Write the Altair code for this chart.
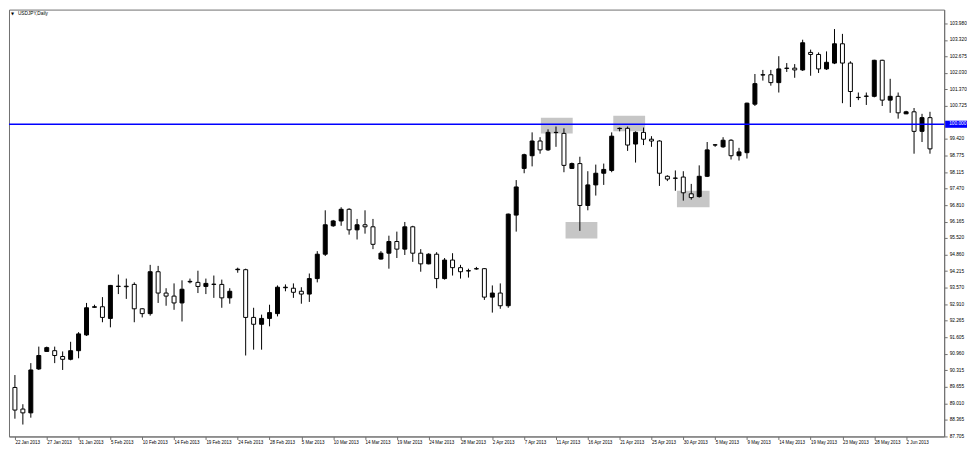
import json
import altair as alt
import pandas as pd

# OHLC per daily bar (Sun-Fri bars, 22 Jan 2013 .. 5 Jun 2013)
opens = [89.63, 88.78, 88.63, 90.36, 91.05, 91.08, 90.85, 90.74, 91.08, 91.70,
         92.79, 92.81, 92.35, 93.61, 93.62, 93.69, 92.73, 92.54, 94.19, 93.35,
         93.23, 92.96, 93.79, 93.77, 93.61, 93.69, 93.69, 93.16, 94.27, 94.27,
         92.39, 92.12, 92.35, 92.54, 93.56, 93.54, 93.42, 93.31, 93.92, 94.88,
         96.00, 96.19, 96.65, 95.84, 96.04, 95.96, 94.69, 94.92, 95.38, 95.08,
         95.96, 94.92, 94.50, 94.88, 93.92, 94.65, 94.35, 94.22, 94.30, 94.31,
         93.19, 93.35, 92.85, 96.42, 98.26, 98.76, 99.34, 98.99, 99.67, 99.64,
         98.26, 98.45, 96.80, 97.61, 98.07, 98.18, 99.83, 99.84, 99.22, 99.68,
         99.41, 99.34, 97.95, 97.88, 97.92, 97.26, 97.15, 97.95, 99.18, 99.11,
         99.37, 98.76, 98.88, 100.79, 101.94, 101.95, 101.64, 102.20, 102.21, 102.14,
         102.83, 102.75, 102.18, 102.41, 103.17, 102.41, 101.05, 101.10, 101.10, 102.52,
         100.95, 101.10, 100.41, 100.49, 99.72, 100.26]
highs = [90.12, 88.97, 90.59, 91.24, 91.24, 91.24, 91.05, 91.43, 91.81, 92.96,
         92.89, 93.19, 93.67, 94.08, 93.92, 93.77, 92.75, 94.46, 94.42, 93.54,
         93.73, 93.85, 93.92, 94.23, 93.92, 94.04, 93.88, 93.54, 94.35, 94.31,
         92.77, 92.50, 92.89, 93.65, 93.69, 93.73, 93.58, 94.12, 95.00, 96.61,
         96.23, 96.73, 96.69, 96.27, 96.61, 96.27, 95.00, 95.61, 95.77, 96.15,
         96.00, 95.08, 94.92, 94.96, 94.73, 94.92, 94.46, 94.31, 94.38, 94.33,
         93.65, 93.73, 96.48, 97.80, 98.84, 99.68, 99.49, 99.80, 99.91, 99.84,
         98.49, 98.72, 98.15, 98.41, 98.45, 99.68, 99.87, 99.91, 99.72, 99.87,
         99.53, 99.37, 97.99, 98.18, 98.15, 97.65, 98.38, 99.30, 99.22, 99.49,
         99.41, 99.07, 100.85, 101.98, 102.14, 102.14, 102.68, 102.41, 102.37, 103.33,
         102.94, 102.83, 102.87, 103.75, 103.56, 102.48, 101.25, 101.25, 102.54, 102.54,
         101.79, 101.25, 100.53, 100.64, 100.41, 100.49]
lows = [88.40, 88.17, 88.44, 90.32, 91.05, 90.59, 90.32, 90.70, 90.78, 91.66,
        92.77, 92.20, 92.00, 93.31, 93.12, 92.20, 92.39, 92.46, 92.96, 92.85,
        92.69, 92.23, 93.73, 93.35, 93.31, 93.16, 92.77, 92.93, 94.15, 90.89,
        91.12, 91.12, 92.04, 92.43, 93.42, 93.16, 92.93, 93.00, 93.77, 94.81,
        95.96, 96.00, 95.65, 95.46, 95.69, 95.08, 94.67, 94.31, 94.73, 94.85,
        94.58, 94.19, 94.48, 93.54, 93.88, 94.04, 93.92, 93.96, 94.27, 93.08,
        92.58, 92.73, 92.77, 95.77, 98.07, 98.34, 98.84, 98.95, 99.11, 98.11,
        98.24, 95.80, 96.61, 97.19, 97.61, 98.11, 99.72, 98.95, 98.49, 99.18,
        99.11, 97.57, 97.76, 97.38, 96.99, 97.03, 97.11, 97.92, 99.11, 99.07,
        98.61, 98.57, 98.65, 100.72, 101.72, 101.52, 101.25, 102.06, 101.83, 102.10,
        101.91, 102.02, 102.14, 102.37, 100.83, 100.68, 100.95, 100.76, 101.06, 100.72,
        100.45, 100.22, 100.40, 98.84, 99.30, 98.84]
closes = [88.74, 88.63, 90.32, 90.89, 91.20, 90.89, 90.74, 91.08, 91.74, 92.77,
          92.81, 92.39, 93.65, 93.62, 93.60, 92.73, 92.54, 94.19, 93.35, 93.23,
          92.96, 93.50, 93.81, 93.61, 93.73, 93.70, 93.16, 93.42, 94.29, 92.39,
          92.12, 92.35, 92.58, 93.58, 93.58, 93.38, 93.31, 93.92, 94.88, 96.04,
          96.19, 96.65, 95.84, 96.04, 95.96, 95.27, 94.92, 95.38, 95.08, 95.96,
          94.92, 94.50, 94.88, 93.92, 94.65, 94.35, 94.19, 94.23, 94.31, 93.19,
          93.35, 92.85, 96.46, 97.53, 98.80, 99.34, 98.99, 99.68, 99.68, 98.38,
          98.45, 96.80, 97.61, 98.07, 98.22, 99.53, 99.84, 99.18, 99.68, 99.41,
          99.34, 98.07, 97.84, 97.87, 97.30, 97.11, 97.95, 98.99, 99.19, 99.37,
          98.76, 98.91, 100.83, 101.60, 101.95, 101.64, 102.18, 102.21, 102.14, 103.21,
          102.75, 102.18, 102.44, 103.17, 102.41, 101.29, 101.06, 101.11, 102.52, 100.95,
          101.10, 100.45, 100.49, 99.72, 100.26, 99.03]

tick_labels = ["22 Jan 2013", "27 Jan 2013", "31 Jan 2013", "5 Feb 2013", "10 Feb 2013",
               "14 Feb 2013", "19 Feb 2013", "24 Feb 2013", "28 Feb 2013", "5 Mar 2013",
               "10 Mar 2013", "14 Mar 2013", "19 Mar 2013", "24 Mar 2013", "28 Mar 2013",
               "2 Apr 2013", "7 Apr 2013", "11 Apr 2013", "16 Apr 2013", "21 Apr 2013",
               "25 Apr 2013", "30 Apr 2013", "5 May 2013", "9 May 2013", "14 May 2013",
               "19 May 2013", "23 May 2013", "28 May 2013", "2 Jun 2013"]
y_ticks = [103.980, 103.320, 102.675, 102.030, 101.370, 100.725, 99.420, 98.775,
           98.115, 97.470, 96.810, 96.165, 95.520, 94.860, 94.215, 93.570, 92.910,
           92.265, 91.605, 90.960, 90.315, 89.655, 89.010, 88.365, 87.705]
level = 100.000

# highlighted zones (bar index range, price range)
zone_x0 = [66.1, 75.2, 69.2, 83.2]
zone_x1 = [70.1, 79.2, 73.2, 87.3]
zone_lo = [99.64, 99.72, 95.50, 96.73]
zone_hi = [100.26, 100.33, 96.15, 97.38]

df = pd.DataFrame({"i": list(range(len(opens))), "open": opens, "high": highs,
                   "low": lows, "close": closes})
df["bull"] = df["close"] >= df["open"]
zones = pd.DataFrame({"x0": zone_x0, "x1": zone_x1, "lo": zone_lo, "hi": zone_hi})
lvl = pd.DataFrame({"level": [level], "lo": [level - 0.14], "hi": [level + 0.14]})

FONT = "Liberation Sans"
GRAY = "#707070"
W, H = 942, 430
xs = alt.Scale(domain=[-0.12, 116.16], nice=False, zero=False)
ys = alt.Scale(domain=[87.70, 104.517], nice=False, zero=False)

label_expr = "%s[round(datum.value/4)]" % json.dumps(tick_labels)
x_axis = alt.Axis(values=list(range(0, 113, 4)), labelExpr=label_expr, labelAlign="left",
                  labelBaseline="top", labelFontSize=4.5, labelFont=FONT, labelColor="#000000",
                  tickSize=3, tickColor=GRAY, domainColor=GRAY, grid=False, title=None,
                  labelOverlap=False, labelPadding=0, labelBound=False, labelFlush=False)
y_axis = alt.Axis(orient="right", values=y_ticks, format=".3f", labelFontSize=4.8,
                  labelFont=FONT, labelColor="#000000", tickSize=3, tickColor=GRAY,
                  domainColor=GRAY, grid=False, title=None, labelPadding=2,
                  labelOverlap=False, labelBound=False, labelFlush=False)


def X(f):
    return alt.X(f, type="quantitative", scale=xs, axis=x_axis)


def Y(f):
    return alt.Y(f, type="quantitative", scale=ys, axis=y_axis)


zone_layer = alt.Chart(zones).mark_rect(color="#c6c6c6").encode(
    x=X("x0"), x2="x1", y=Y("lo"), y2="hi")

wicks = alt.Chart(df).mark_rule(color="black", strokeWidth=1).encode(
    x=X("i"), y=Y("low"), y2="high")

bodies = alt.Chart(df).mark_bar(size=4, stroke="black", strokeWidth=1).encode(
    x=X("i"), y=Y("open"), y2="close",
    fill=alt.condition("datum.bull", alt.value("black"), alt.value("white")))

line = alt.Chart(lvl).mark_rule(color="#0000ff", strokeWidth=1.5).encode(y=Y("level"))

lbl_box = alt.Chart(lvl).mark_rect(color="#0000ff").encode(
    x=alt.value(W + 1), x2=alt.value(W + 23), y=Y("lo"), y2="hi")
lbl_txt = alt.Chart(lvl).mark_text(align="left", baseline="middle", color="white",
                                   fontSize=4.8, font=FONT).encode(
    x=alt.value(W + 5), y=Y("level"), text=alt.value("100.000"))

title = alt.Chart(lvl).mark_text(align="left", baseline="middle", color="black",
                                 fontSize=4.8, font=FONT).encode(
    x=alt.value(9), y=alt.value(4), text=alt.value("USDJPY,Daily"))
tri = alt.Chart(lvl).mark_text(align="left", baseline="middle", color="black",
                               fontSize=4, font="DejaVu Sans").encode(
    x=alt.value(2), y=alt.value(4), text=alt.value("\u25bc"))

chart = alt.layer(zone_layer, wicks, bodies, line, lbl_box, lbl_txt, title, tri).properties(
    width=W, height=H,
    padding=0,
    background="white",
).configure_view(stroke=GRAY, strokeWidth=1)

chart.save("out.html", embed_options={"renderer": "svg", "actions": False})
